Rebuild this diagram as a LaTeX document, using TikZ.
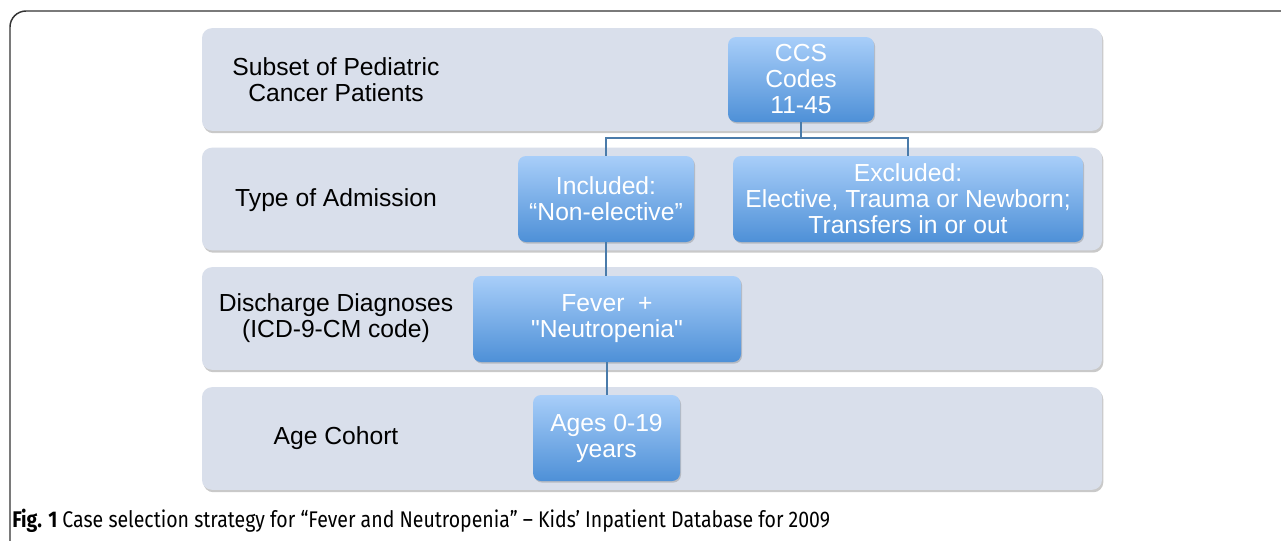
\documentclass[tikz,border=0pt]{standalone}
\usepackage{fontspec}
\setmainfont{Liberation Sans}
\newfontfamily\nomapfont{Liberation Sans}
\newfontfamily\capfont{Fira Sans}
\usetikzlibrary{shadows}
\definecolor{bandfill}{HTML}{D9DFEB}
\definecolor{boxtop}{HTML}{A8CEF9}
\definecolor{boxbot}{HTML}{4E90D7}
\definecolor{conn}{HTML}{4A7BAA}
\definecolor{framec}{HTML}{333333}
\newcommand{\sq}{{\nomapfont"}}
\tikzset{
  band/.style={rounded corners=7.5pt, fill=bandfill, minimum width=675pt, minimum height=77pt, inner sep=0pt,
    drop shadow={shadow xshift=1pt, shadow yshift=-1.8pt, opacity=0.35, fill=black!60}},
  bluebox/.style={rounded corners=6pt, top color=boxtop, bottom color=boxbot, inner sep=0pt,
    minimum height=64.5pt, text=white, align=center, font=\fontsize{18.5}{19.5}\selectfont,
    drop shadow={shadow xshift=0.8pt, shadow yshift=-1.2pt, opacity=0.3, fill=black!60}},
  lbl/.style={align=center, font=\fontsize{18.5}{19.5}\selectfont, text=black},
  link/.style={draw=conn, line width=1.1pt}
}
\begin{document}
\begin{tikzpicture}[x=0.75pt,y=-0.75pt]
\useasboundingbox (0,0) rectangle (1281,540);
\fill[white] (0,0) rectangle (1281,540);
% outer frame (cut off at right and bottom)
\draw[framec, line width=1.1pt, rounded corners=12pt] (10,560) -- (10,11) -- (1300,11);
% bands
\node[band] (b1) at (652,79.5) {};
\node[band] (b2) at (652,199) {};
\node[band] (b3) at (652,318.5) {};
\node[band] (b4) at (652,438.5) {};
% band labels
\node[lbl] (l1) at (336,80) {Subset of Pediatric\\Cancer Patients};
\node[lbl] (l2) at (336,200) {Type of Admission};
\node[lbl] (l3) at (336,318) {Discharge Diagnoses\\(ICD-9-CM code)};
\node[lbl] (l4) at (336,438) {Age Cohort};
% blue boxes
\node[bluebox, minimum width=109.5pt, minimum height=63.75pt] (ccs) at (801,79.5) {CCS\\Codes\\11-45};
\node[bluebox, minimum width=132pt] (inc) at (606,199) {Included:\\“Non-elective”};
\node[bluebox, minimum width=262.5pt] (exc) at (908,199) {Excluded:\\Elective, Trauma or Newborn;\\Transfers in or out};
\node[bluebox, minimum width=201pt] (fev) at (607,319) {Fever\ \ +\\\sq Neutropenia\sq};
\node[bluebox, minimum width=110.25pt] (age) at (606.5,438) {Ages 0-19\\years};
% connectors
\coordinate (j) at (801,138);
\draw[link] (ccs.south) -- (j);
\draw[link] (inc.north) |- (j) -| (exc.north);
\draw[link] (inc.south) -- (inc.south |- fev.north);
\draw[link] (fev.south) -- (fev.south |- age.north);
% caption
\node[anchor=base west, inner sep=0pt] (cap) at (12,527) {\capfont\fontsize{17}{19}\selectfont\scalebox{0.86}[1]{\textbf{Fig. 1} Case selection strategy for “Fever and Neutropenia” – Kids’ Inpatient Database for 2009}};
\end{tikzpicture}
\end{document}
